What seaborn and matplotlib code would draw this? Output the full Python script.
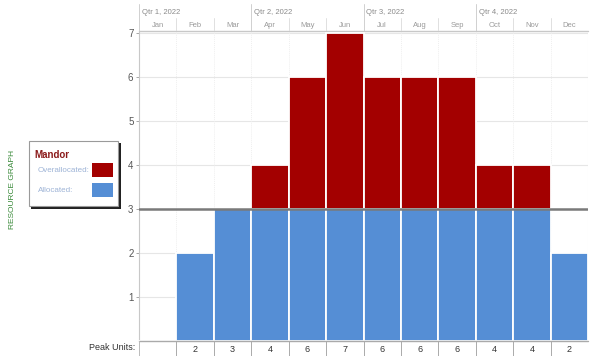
import matplotlib
matplotlib.use("Agg")
import matplotlib.pyplot as plt
from matplotlib.patches import Rectangle
import seaborn as sns
import pandas as pd

months = ["Jan", "Feb", "Mar", "Apr", "May", "Jun", "Jul", "Aug", "Sep", "Oct", "Nov", "Dec"]
quarters = ["Qtr 1, 2022", "Qtr 2, 2022", "Qtr 3, 2022", "Qtr 4, 2022"]
peak_units = [0, 2, 3, 4, 6, 7, 6, 6, 6, 4, 4, 2]
max_units = 3
allocated = [min(p, max_units) for p in peak_units]
overallocated = [max(p - max_units, 0) for p in peak_units]
y_ticks = [1, 2, 3, 4, 5, 6, 7]

RED = "#A30000"
BLUE = "#558ED5"
GRID = "#E6E6E6"

sns.set_theme(style="white")
plt.rcParams["font.family"] = ["Liberation Sans Narrow", "Liberation Sans", "DejaVu Sans"]

W, H = 590, 358
fig = plt.figure(figsize=(W / 100, H / 100), dpi=100)

def frac(x0, y0, x1, y1):
    return [x0 / W, 1 - y1 / H, (x1 - x0) / W, (y1 - y0) / H]

df = pd.DataFrame({"month": months, "allocated": allocated,
                   "overallocated": overallocated, "peak": peak_units})

# main chart
ax = fig.add_axes(frac(139, 31, 588, 341))
sns.barplot(data=df, x="month", y="overallocated", bottom=df["allocated"], color=RED,
            width=1.0, edgecolor="white", linewidth=1.3, saturation=1, ax=ax, zorder=3)
sns.barplot(data=df, x="month", y="allocated", color=BLUE,
            width=1.0, edgecolor="white", linewidth=1.3, saturation=1, ax=ax, zorder=3)
ax.set_xlim(-0.5, len(months) - 0.5)
ax.set_ylim(0, 7.05)
ax.set_xlabel("")
ax.set_ylabel("")
ax.set_xticks([])
ax.set_yticks(y_ticks)
ax.set_yticklabels([str(t) for t in y_ticks], fontsize=7, color="#555555")
ax.tick_params(axis="y", length=2, width=0.6, color="#999999", pad=2, left=True)
for t in y_ticks:
    ax.axhline(t, color=GRID, lw=0.8, zorder=1)
for i in range(1, len(months)):
    ax.axvline(i - 0.5, color="#EFEFEF", lw=0.7, ls=(0, (1, 1)), zorder=1)
ax.axhline(max_units, color="#7A7A7A", lw=1.8, zorder=4)
for s in ["top", "bottom", "right"]:
    ax.spines[s].set_visible(False)
ax.spines["left"].set_color("#C8C8C8")
ax.spines["left"].set_linewidth(0.8)
ax.axhline(7.05, color="#C8C8C8", lw=1.0, zorder=2, clip_on=False)
ax.axvline(len(months) - 0.5, color="#F0F0F0", lw=0.8, zorder=1)

# timescale header
hx = fig.add_axes(frac(139, 4, 588, 31))
hx.set_xlim(-0.5, len(months) - 0.5)
hx.set_ylim(0, 1)
hx.axis("off")
for i, m in enumerate(months):
    hx.text(i, 0.22, m, ha="center", va="center", fontsize=5.5, color="#9A9A9A")
    if i % 3 == 0:
        hx.plot([i - 0.5, i - 0.5], [0, 1], color="#D0D0D0", lw=0.7)
        hx.text(i - 0.42, 0.7, quarters[i // 3], ha="left", va="center",
                fontsize=5.5, color="#8A8A8A")
    else:
        hx.plot([i - 0.5, i - 0.5], [0, 0.48], color="#E0E0E0", lw=0.7)

# peak units row
tx = fig.add_axes(frac(139, 341, 588, 356))
tx.set_xlim(-0.5, len(months) - 0.5)
tx.set_ylim(0, 1)
tx.axis("off")
tx.plot([-0.5, len(months) - 0.5], [1, 1], color="#AAAAAA", lw=1.0, clip_on=False)
tx.plot([-0.5, -0.5], [0, 1], color="#BBBBBB", lw=0.7)
for i, p in enumerate(peak_units):
    if p > 0:
        tx.plot([i - 0.5, i - 0.5], [0, 1], color="#AAAAAA", lw=0.7)
        tx.text(i, 0.45, str(p), ha="center", va="center", fontsize=6.5, color="#333333")
fig.text(135 / W, 1 - 348 / H, "Peak Units:", ha="right", va="center",
         fontsize=6.5, color="#333333")

# side caption
fig.text(13 / W, 1 - 189 / H, "RESOURCE GRAPH", rotation=90, ha="center", va="center",
         fontsize=6, color="#3A8A3A")

# legend box
lg = fig.add_axes(frac(28, 140, 122, 210))
lg.set_xlim(0, 94)
lg.set_ylim(70, 0)
lg.axis("off")
lg.add_patch(Rectangle((3, 3), 90, 66, facecolor="#222222", edgecolor="none", clip_on=False))
lg.add_patch(Rectangle((1, 1), 89, 65, facecolor="white", edgecolor="#9A9A9A", lw=0.8,
                       clip_on=False))
lg.text(6, 15, "Mandor", fontsize=7, color="#8B1A1A", va="center", ha="left",
        fontweight="bold")
lg.text(10, 30, "Overallocated:", fontsize=5.8, color="#9DB3D6", va="center", ha="left")
lg.text(10, 50, "Allocated:", fontsize=5.8, color="#9DB3D6", va="center", ha="left")
lg.add_patch(Rectangle((64, 23), 21, 14, facecolor=RED, edgecolor="none"))
lg.add_patch(Rectangle((64, 43), 21, 14, facecolor=BLUE, edgecolor="none"))

fig.savefig("out.png", dpi=100)
